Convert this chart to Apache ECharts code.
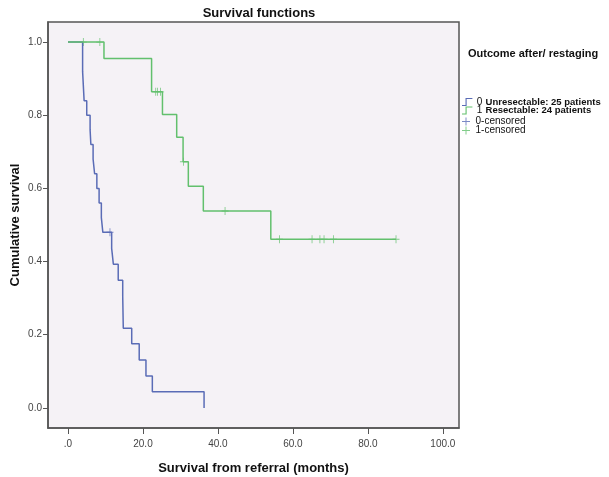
<!DOCTYPE html>
<html>
<head>
<meta charset="utf-8">
<script src="https://cdn.jsdelivr.net/npm/echarts@6/dist/echarts.min.js"></script>
<style>html,body{margin:0;padding:0;background:#fff;}#c{width:609px;height:477px;}</style>
</head>
<body>
<div id="c"></div>
<script>
// Group 0: Unresectable (25 patients) — event times (months) and survival after each step
var unresTimes = [0, 3.9, 4.3, 5.0, 5.9, 6.1, 6.7, 7.1, 7.7, 8.3, 8.9, 9.3, 11.65, 12.1, 13.4, 14.6, 14.75, 17.0, 19.0, 20.8, 22.5, 36.3];
var unresSurv  = [1.0, 0.92, 0.84, 0.80, 0.76, 0.72, 0.68, 0.64, 0.60, 0.56, 0.52, 0.48, 0.436, 0.393, 0.349, 0.305, 0.218, 0.175, 0.131, 0.087, 0.044, 0.0];
var unresCensored = [11.2];

// Group 1: Resectable (24 patients)
var resTimes = [0, 9.6, 22.3, 25.2, 29.0, 30.7, 32.1, 36.1, 54.1, 87.5];
var resSurv  = [1.0, 0.955, 0.864, 0.802, 0.740, 0.673, 0.606, 0.538, 0.461, 0.461];
var resCensored = [4.1, 8.5, 23.4, 23.9, 24.7, 30.8, 41.9, 56.4, 65.1, 67.2, 68.3, 70.8, 87.5];

var xTicks = [0, 20, 40, 60, 80, 100];
var yTicks = [0, 0.2, 0.4, 0.6, 0.8, 1.0];

var legendNames = ['Unresectable', 'Resectable', '0-censored', '1-censored'];
var legendLabels = ['{n|0} {b|Unresectable: 25 patients}', '{n|1} {b|Resectable: 24 patients}', '{n|0-censored}', '{n|1-censored}'];

function pairs(t, s) { return t.map(function (v, i) { return [v, s[i]]; }); }
function levelAt(t, times, surv) {
  var v = surv[0];
  for (var i = 0; i < times.length; i++) { if (times[i] <= t) v = surv[i]; }
  return v;
}
function censorPts(c, times, surv) { return c.map(function (t) { return [t, levelAt(t, times, surv)]; }); }

var BLUE = '#5a6cb6', GREEN = '#62c06d';
var plus = 'path://M4.4,0 H5.6 V4.4 H10 V5.6 H5.6 V10 H4.4 V5.6 H0 V4.4 H4.4 Z';
var stepIcon = 'path://M0,8.6 H4.4 V0 H13 V1.4 H5.8 V10 H0 Z';
var icons = [stepIcon, stepIcon, plus, plus];
var legendTops = [96, 104.5, 116.5, 125.5];

var legends = legendNames.map(function (name, i) {
  return {
    orient: 'vertical', left: 462, top: legendTops[i], padding: 0,
    itemWidth: 13, itemHeight: 8,
    data: [{name: name, icon: icons[i]}],
    formatter: function () { return legendLabels[i]; },
    textStyle: {
      color: '#111', padding: [0, 0, 0, -2],
      rich: {
        n: {fontSize: 10, color: '#111'},
        b: {fontSize: 9.5, fontWeight: 'bold', color: '#111'}
      }
    }
  };
});

var chart = echarts.init(document.getElementById('c'), null, {renderer: 'canvas'});
chart.setOption({
  backgroundColor: '#ffffff',
  animation: false,
  textStyle: {fontFamily: 'Liberation Sans, Arial, sans-serif'},
  title: [
    {text: 'Survival functions', left: 254, top: 2, textAlign: 'center',
     textStyle: {fontSize: 13, fontWeight: 'bold', color: '#111'}},
    {text: 'Outcome after/ restaging', left: 463, top: 43,
     textStyle: {fontSize: 11, fontWeight: 'bold', color: '#111'}}
  ],
  legend: legends,
  grid: {left: 48, right: 150, top: 22, bottom: 49, show: true, outerBoundsMode: 'none',
         backgroundColor: '#f5f2f6', borderColor: '#555', borderWidth: 1.5},
  xAxis: {
    type: 'value', min: -5.33, max: 104.3,
    name: 'Survival from referral (months)', nameLocation: 'middle', nameGap: 34,
    nameMoveOverlap: false,
    nameTextStyle: {fontSize: 13, fontWeight: 'bold', color: '#111'},
    splitLine: {show: false},
    axisLine: {show: true, onZero: false, lineStyle: {color: '#555', width: 1.5}},
    axisTick: {show: true, customValues: xTicks, length: 6, lineStyle: {color: '#555'}},
    axisLabel: {customValues: xTicks, fontSize: 10, color: '#444', margin: 11,
      formatter: function (v) { return v === 0 ? '.0' : v.toFixed(1); }}
  },
  yAxis: {
    type: 'value', min: -0.055, max: 1.055,
    name: 'Cumulative survival', nameLocation: 'middle', nameGap: 26,
    nameMoveOverlap: false,
    nameTextStyle: {fontSize: 13, fontWeight: 'bold', color: '#111'},
    splitLine: {show: false},
    axisLine: {show: true, onZero: false, lineStyle: {color: '#555', width: 1.5}},
    axisTick: {show: true, customValues: yTicks, length: 5, lineStyle: {color: '#555'}},
    axisLabel: {customValues: yTicks, fontSize: 10, color: '#444', margin: 6,
      formatter: function (v) { return v.toFixed(1); }}
  },
  series: [
    {name: 'Unresectable', type: 'line', step: 'end', showSymbol: false,
     data: pairs(unresTimes, unresSurv), color: BLUE,
     lineStyle: {color: BLUE, width: 1.5}},
    {name: 'Resectable', type: 'line', step: 'end', showSymbol: false,
     data: pairs(resTimes, resSurv), color: GREEN,
     lineStyle: {color: GREEN, width: 1.5}},
    {name: '0-censored', type: 'scatter', symbol: plus, symbolSize: [7, 8],
     data: censorPts(unresCensored, unresTimes, unresSurv), itemStyle: {color: BLUE}},
    {name: '1-censored', type: 'scatter', symbol: plus, symbolSize: [7, 8],
     data: censorPts(resCensored, resTimes, resSurv), itemStyle: {color: GREEN}}
  ]
});
</script>
</body>
</html>
